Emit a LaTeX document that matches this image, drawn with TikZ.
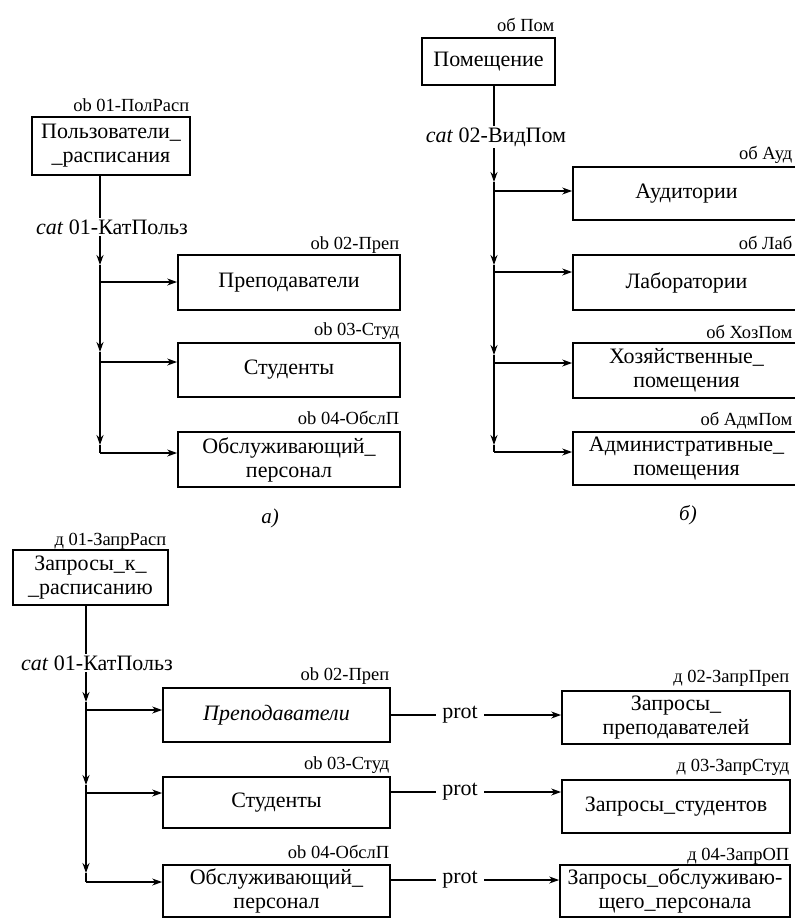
\documentclass[tikz,border=0pt]{standalone}
\usepackage{fontspec}
\setmainfont{Liberation Serif}
\usetikzlibrary{arrows.meta}
\begin{document}
\begin{tikzpicture}[x=1pt,y=-1pt,
  line width=1.5pt,
  box/.style={draw, line width=1.7pt, align=center,
    font=\fontsize{22}{24}\selectfont, inner sep=2pt},
  tag/.style={font=\fontsize{18.5}{20}\selectfont, inner sep=0pt},
  catlbl/.style={font=\fontsize{22}{24}\selectfont, inner sep=1pt},
  protlbl/.style={font=\fontsize{22}{24}\selectfont, inner xsep=6pt, inner ysep=1pt},
  caption/.style={font=\fontsize{21}{23}\selectfont\itshape},
  arr/.style={-{Stealth[length=10pt,width=7pt]}},
]
\useasboundingbox (0,0) rectangle (795,919);
\clip (0,0) rectangle (795,919);

% ---------- (a) users of the timetable ----------
\node[box, minimum width=158pt, minimum height=58pt] (a1) at (111,146)
  {Пользователи\_\\\_расписания};
\node[tag, anchor=east] (a1t) at (190,105) {ob 01-ПолРасп};
\node[catlbl] (acat) at (112,227) {\textit{cat} 01-КатПольз};

\node[box, minimum width=222pt, minimum height=55pt] (a2) at (289,282.5) {Преподаватели};
\node[box, minimum width=222pt, minimum height=54pt] (a3) at (289,370) {Студенты};
\node[box, minimum width=222pt, minimum height=55pt] (a4) at (289,459.5)
  {Обслуживающий\_\\персонал};
\node[tag, anchor=east] (a2t) at (400,245) {ob 02-Преп};
\node[tag, anchor=east] (a3t) at (400,331) {ob 03-Студ};
\node[tag, anchor=east] (a4t) at (400,418) {ob 04-ОбслП};
\node[caption] (acap) at (270,518) {а)};

\coordinate (at1) at (100,265);
\coordinate (aj1) at (100,282);
\coordinate (at2) at (100,352);
\coordinate (aj2) at (100,362);
\coordinate (at3) at (100,445);
\coordinate (aj3) at (100,453);

\draw (a1.south -| aj1) -- (acat.north -| aj1);
\draw[arr] (acat.south -| aj1) -- (at1);
\draw[arr] (at1) -- (at2);
\draw[arr] (at2) -- (at3);
\draw (at3) -- (aj3);
\draw[arr] (aj1) -- (aj1 -| a2.west);
\draw[arr] (aj2) -- (aj2 -| a3.west);
\draw[arr] (aj3) -- (aj3 -| a4.west);

% ---------- (b) rooms ----------
\node[box, minimum width=133pt, minimum height=47pt] (b1) at (488.5,61.5) {Помещение};
\node[tag, anchor=east] (b1t) at (555,25) {об Пом};
\node[catlbl] (bcat) at (496,137) {\textit{cat} 02-ВидПом};

\node[box, minimum width=227pt, minimum height=53pt] (b2) at (686.5,193.5) {Аудитории};
\node[box, minimum width=227pt, minimum height=55pt] (b3) at (686.5,282.5) {Лаборатории};
\node[box, minimum width=227pt, minimum height=55pt] (b4) at (686.5,370.5)
  {Хозяйственные\_\\помещения};
\node[box, minimum width=227pt, minimum height=53pt] (b5) at (686.5,458.5)
  {Административные\_\\помещения};
\node[tag, anchor=east] (b2t) at (793,155) {об Ауд};
\node[tag, anchor=east] (b3t) at (793,243) {об Лаб};
\node[tag, anchor=east] (b4t) at (793,332) {об ХозПом};
\node[tag, anchor=east] (b5t) at (793,421) {об АдмПом};
\node[caption] (bcap) at (688,515) {б)};

\coordinate (bt1) at (494,182);
\coordinate (bj1) at (494,191);
\coordinate (bt2) at (494,265);
\coordinate (bj2) at (494,272);
\coordinate (bt3) at (494,355);
\coordinate (bj3) at (494,363);
\coordinate (bt4) at (494,445);
\coordinate (bj4) at (494,452);

\draw (b1.south -| bj1) -- (bcat.north -| bj1);
\draw[arr] (bcat.south -| bj1) -- (bt1);
\draw[arr] (bt1) -- (bt2);
\draw[arr] (bt2) -- (bt3);
\draw[arr] (bt3) -- (bt4);
\draw (bt4) -- (bj4);
\draw[arr] (bj1) -- (bj1 -| b2.west);
\draw[arr] (bj2) -- (bj2 -| b3.west);
\draw[arr] (bj3) -- (bj3 -| b4.west);
\draw[arr] (bj4) -- (bj4 -| b5.west);

% ---------- (c) timetable requests ----------
\node[box, minimum width=155pt, minimum height=55pt] (c1) at (90.5,577.5)
  {Запросы\_к\_\\\_расписанию};
\node[tag, anchor=east] (c1t) at (167,541) {д 01-ЗапрРасп};
\node[catlbl] (ccat) at (97,663) {\textit{cat} 01-КатПольз};

\node[box, minimum width=227pt, minimum height=54pt] (c2) at (276.5,715) {\textit{Преподаватели}};
\node[box, minimum width=227pt, minimum height=51pt] (c3) at (276.5,802.5) {Студенты};
\node[box, minimum width=227pt, minimum height=52pt] (c4) at (276.5,891)
  {Обслуживающий\_\\персонал};
\node[tag, anchor=east] (c2t) at (390,676) {ob 02-Преп};
\node[tag, anchor=east] (c3t) at (390,765) {ob 03-Студ};
\node[tag, anchor=east] (c4t) at (390,852) {ob 04-ОбслП};

\node[box, minimum width=228pt, minimum height=53pt] (d2) at (676,717.5)
  {Запросы\_\\преподавателей};
\node[box, minimum width=228pt, minimum height=53pt] (d3) at (676,806.5)
  {Запросы\_студентов};
\node[box, minimum width=230pt, minimum height=52pt] (d4) at (675,891)
  {Запросы\_обслуживаю-\\щего\_персонала};
\node[tag, anchor=east] (d2t) at (790,678) {д 02-ЗапрПреп};
\node[tag, anchor=east] (d3t) at (790,767) {д 03-ЗапрСтуд};
\node[tag, anchor=east] (d4t) at (790,856) {д 04-ЗапрОП};

\coordinate (ct1) at (86,702);
\coordinate (cj1) at (86,710);
\coordinate (ct2) at (86,785);
\coordinate (cj2) at (86,793);
\coordinate (ct3) at (86,873);
\coordinate (cj3) at (86,882);

\draw (c1.south -| cj1) -- (ccat.north -| cj1);
\draw[arr] (ccat.south -| cj1) -- (ct1);
\draw[arr] (ct1) -- (ct2);
\draw[arr] (ct2) -- (ct3);
\draw (ct3) -- (cj3);
\draw[arr] (cj1) -- (cj1 -| c2.west);
\draw[arr] (cj2) -- (cj2 -| c3.west);
\draw[arr] (cj3) -- (cj3 -| c4.west);

% prot links
\node[protlbl] (p2) at (460,715) {prot};
\node[protlbl] (p3) at (460,792) {prot};
\node[protlbl] (p4) at (460,880) {prot};
\draw (p2.west -| c2.east) -- (p2.west);
\draw[arr] (p2.east) -- (p2.east -| d2.west);
\draw (p3.west -| c3.east) -- (p3.west);
\draw[arr] (p3.east) -- (p3.east -| d3.west);
\draw (p4.west -| c4.east) -- (p4.west);
\draw[arr] (p4.east) -- (p4.east -| d4.west);
\end{tikzpicture}
\end{document}
